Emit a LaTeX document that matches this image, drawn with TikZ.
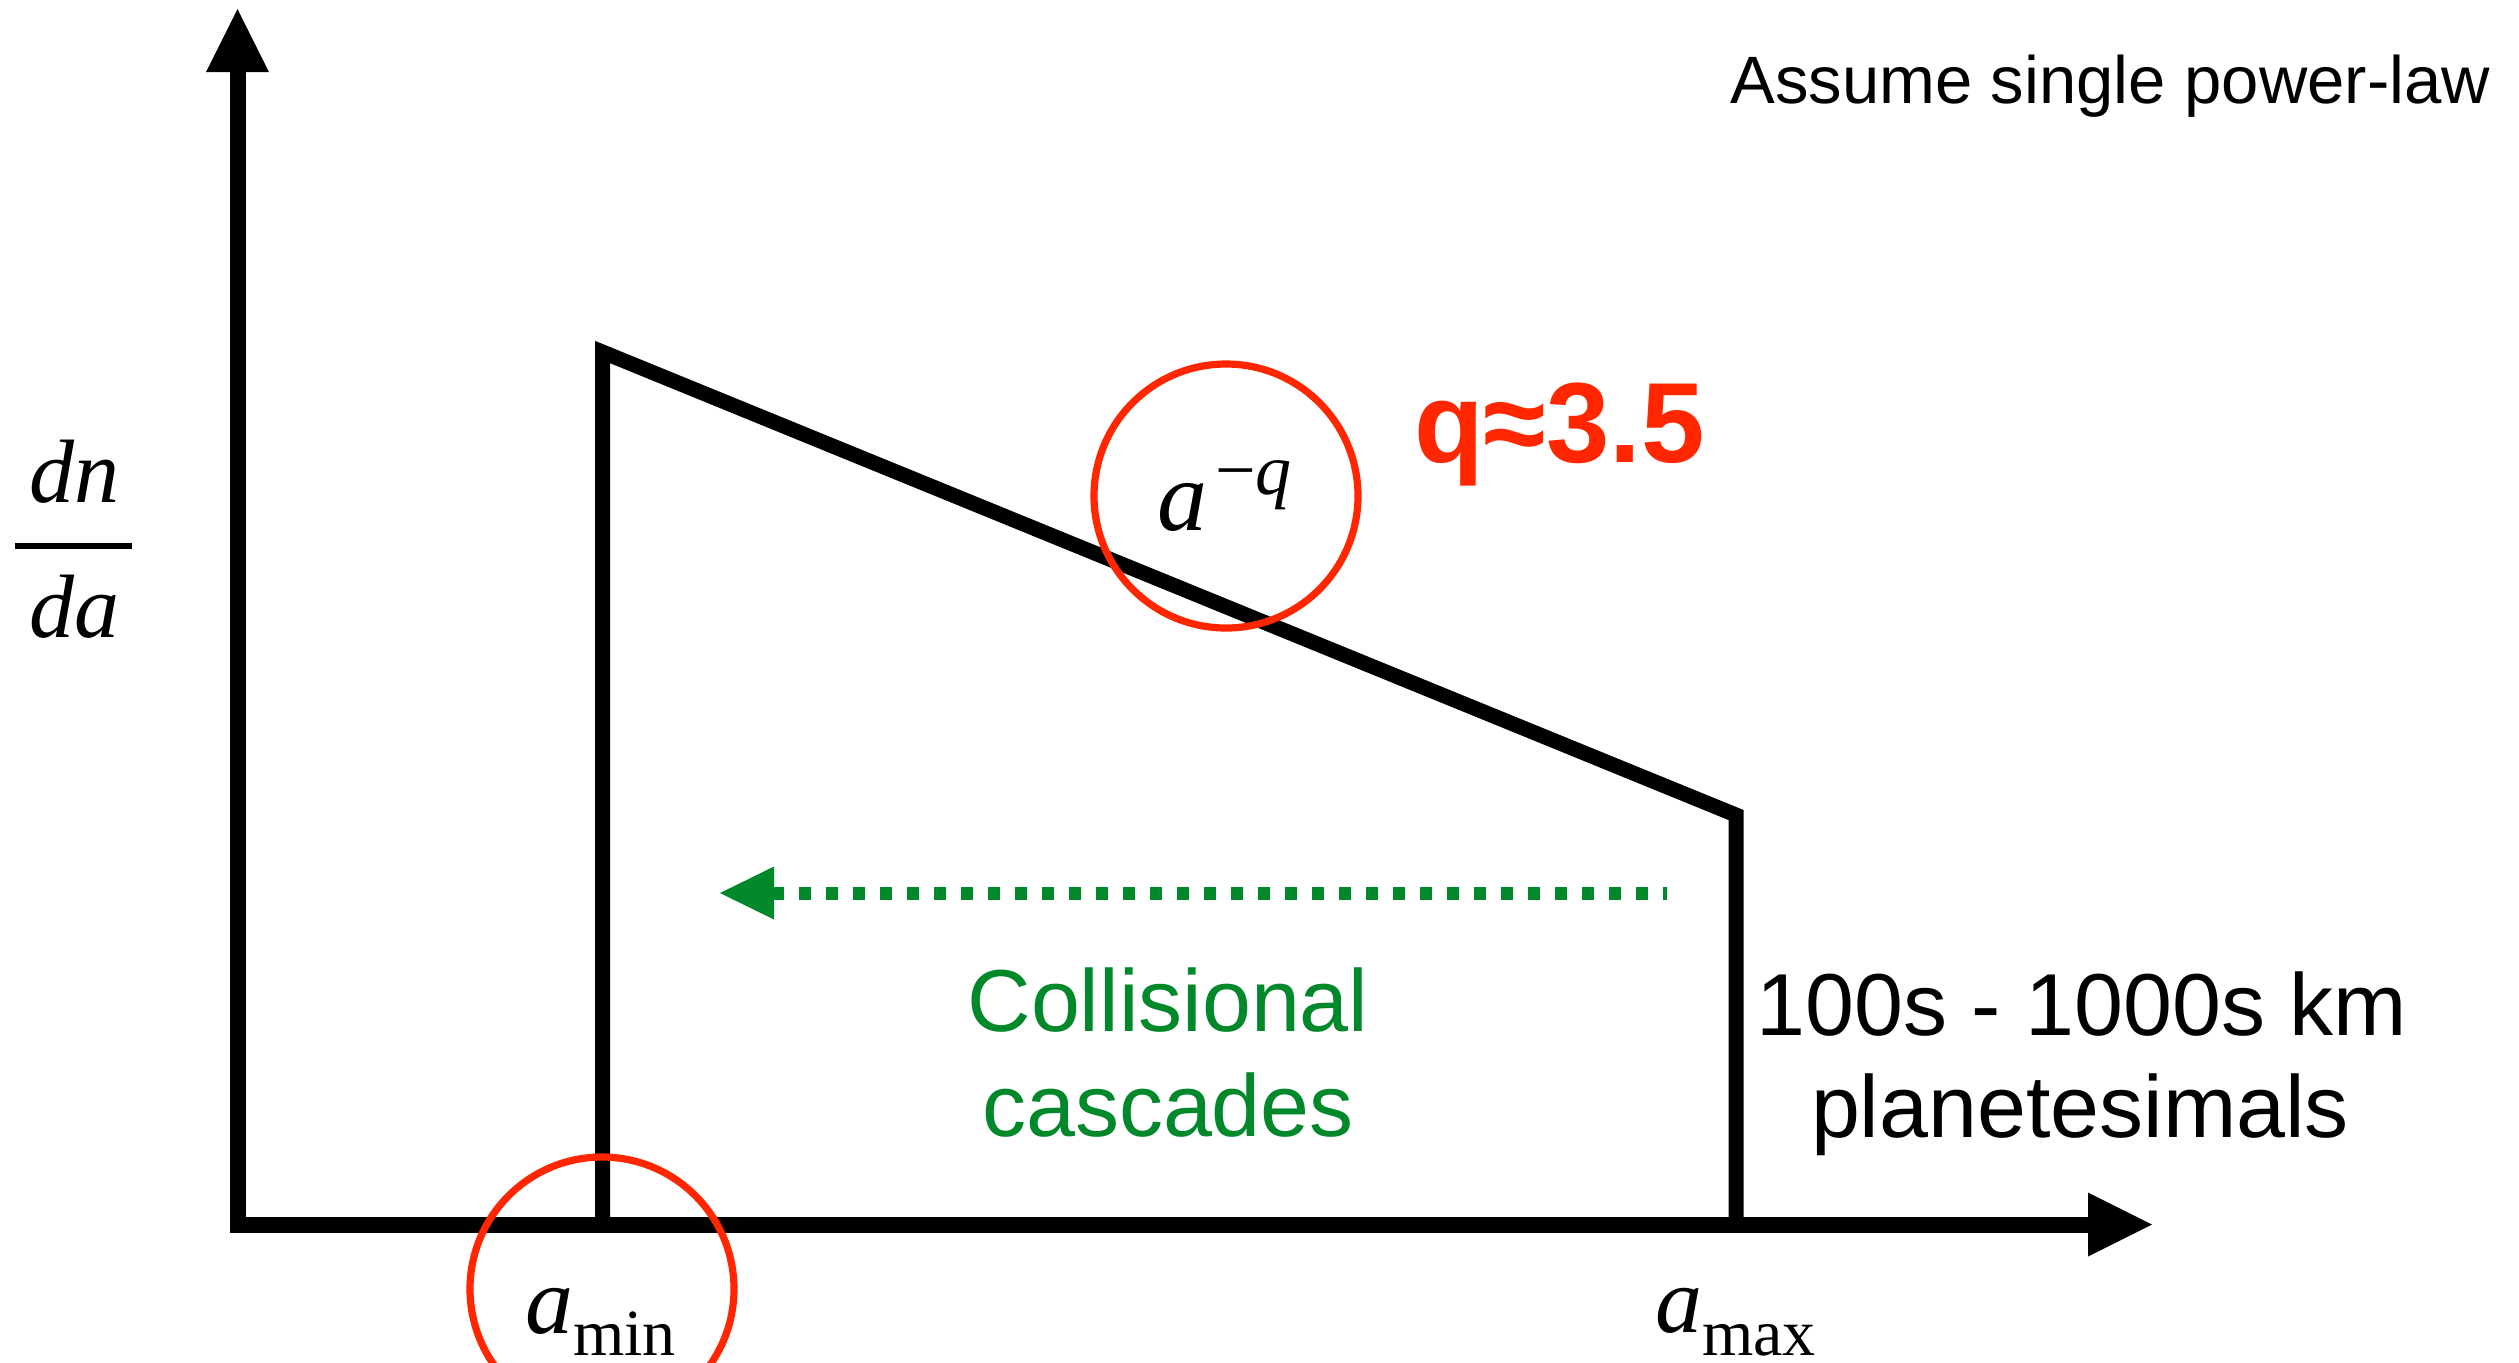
\documentclass[tikz,border=0pt]{standalone}
\usepackage{fontspec}
\setmainfont{Liberation Serif}
\newfontfamily\sansf{Liberation Sans}
\definecolor{kred}{RGB}{255,38,0}
\definecolor{kgreen}{RGB}{0,136,43}
\begin{document}
\begin{tikzpicture}[x=0.5pt,y=-0.5pt,
  axisline/.style={line width=8pt, line join=miter},
  plotline/.style={line width=7.5pt, line join=miter},
  ring/.style={draw=kred, line width=3.6pt},
  lbl/.style={inner sep=0pt, outer sep=0pt},
  sanslbl/.style={lbl, font=\sansf\fontsize{44}{51}\selectfont, align=center},
  casc/.style={draw=kgreen, line width=6.5pt, dash pattern=on 6pt off 7.5pt}]
\useasboundingbox (0,0) rectangle (2519,1362);
% axes
\draw[axisline] (237.5,70) -- (237.5,1224.5) -- (2090,1224.5);
\fill (206,72) -- (237.5,9) -- (269,72) -- cycle;
\fill (2088,1192.5) -- (2152,1224.5) -- (2088,1256.5) -- cycle;
% distribution
\draw[plotline] (602.5,1224.5) -- (602.5,352) -- (1736,815) -- (1736,1224.5);
% cascade arrow
\draw[casc] (772,893) -- (1667,893);
\fill[kgreen] (774,866.5) -- (720,893) -- (774,919.5) -- cycle;
% circles
\draw[ring] (1226,496) circle[radius=132];
\draw[ring] (602,1289) circle[radius=132];
% labels
\node[lbl, anchor=base west] (pl) at (1157,530)
  {{\fontsize{50}{60}\selectfont\itshape a}\hspace{4pt}\raisebox{18pt}{\fontsize{36}{40}\selectfont −\itshape q}};
\node[lbl, anchor=base west, text=kred, font=\sansf\bfseries\fontsize{57}{64}\selectfont] (qv) at (1414,462) {q≈3.5};
\node[lbl, anchor=base east, font=\sansf\fontsize{33.5}{40}\selectfont] (as) at (2490,103) {Assume single power-law};
\node[lbl, anchor=base, font=\fontsize{45}{50}\selectfont\itshape] (dn) at (74,502) {dn};
\node[lbl, anchor=base, font=\fontsize{45}{50}\selectfont\itshape] (da) at (74,637) {da};
\draw[line width=3pt] (15,546) -- (132,546);
\node[sanslbl, anchor=base, text=kgreen] (c1) at (1168,1031) {Collisional};
\node[sanslbl, anchor=base, text=kgreen] (c2) at (1168,1136) {cascades};
\node[sanslbl, anchor=base] (p1) at (2082,1035) {100s - 1000s km};
\node[sanslbl, anchor=base] (p2) at (2080,1137) {planetesimals};
\node[lbl, anchor=base west] (amin) at (525,1333)
  {{\fontsize{48}{56}\selectfont\itshape a}\raisebox{-11pt}{\fontsize{33}{40}\selectfont min}};
\node[lbl, anchor=base west] (amax) at (1655,1332)
  {{\fontsize{47}{56}\selectfont\itshape a}\raisebox{-11.5pt}{\fontsize{33}{40}\selectfont max}};
\end{tikzpicture}
\end{document}
